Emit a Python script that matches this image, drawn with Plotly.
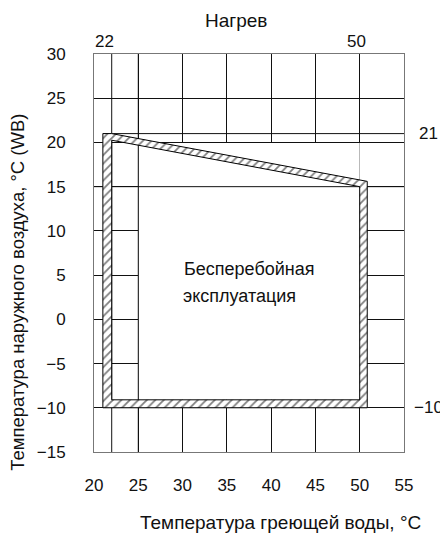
import plotly.graph_objects as go

# ---- data ----
x_ticks = [20, 25, 30, 35, 40, 45, 50, 55]
y_ticks = [-15, -10, -5, 0, 5, 10, 15, 20, 25, 30]

# operating envelope: hatched boundary band (outer and inner edges)
band_outer_x = [21, 21, 22, 50.85, 50.85]
band_outer_y = [-10, 21, 21, 15.6, -10]
band_inner_x = [22, 22, 50, 50]
band_inner_y = [-9.1, 20.25, 15, -9.1]

top_labels = [22, 50]        # water temperature limits shown above the plot
right_labels = [21, -10]     # outdoor temperature limits shown on the right

title_text = "Нагрев"
x_title = "Температура греющей воды, °C"
y_title = "Температура наружного воздуха, °C (WB)"
area_lines = ["Бесперебойная", "эксплуатация"]

FONT = "Liberation Sans, Arial, sans-serif"
GRID = "#111111"
TXT = "#111111"

fig = go.Figure()

def seg(xs, ys, color=GRID, width=1):
    fig.add_trace(go.Scatter(x=xs, y=ys, mode="lines",
                             line=dict(color=color, width=width),
                             hoverinfo="skip", showlegend=False))

# extra reference line at x = 22
seg([top_labels[0], top_labels[0]], [y_ticks[0], y_ticks[-1]])

# white mask hiding the grid inside the envelope
mx0, mx1 = x_ticks[1], band_inner_x[-1]
my0, my1 = band_inner_y[0], 19.95
fig.add_trace(go.Scatter(x=[mx0, mx0, mx1, mx1, mx0], y=[my0, my1, my1, my0, my0],
                         mode="lines", fill="toself", fillcolor="white",
                         line=dict(width=0, color="white"),
                         hoverinfo="skip", showlegend=False))

# lines that stay visible over the mask
seg([x_ticks[1], x_ticks[1]], [y_ticks[0], y_ticks[-1]])
seg([x_ticks[0], x_ticks[-1]], [15, 15])
seg([band_outer_x[0], x_ticks[-1]], [right_labels[0], right_labels[0]])

# hatched band: outer ring (clockwise) + inner ring (counter-clockwise) -> hole
inner_rev_x = [band_inner_x[0]] + band_inner_x[::-1][:-1]
inner_rev_y = [band_inner_y[0]] + band_inner_y[::-1][:-1]
ring_x = band_outer_x + [band_outer_x[0]] + inner_rev_x + [inner_rev_x[0]]
ring_y = band_outer_y + [band_outer_y[0]] + inner_rev_y + [inner_rev_y[0]]
fig.add_trace(go.Scatter(x=ring_x, y=ring_y, mode="lines", fill="toself",
                         fillcolor="white",
                         fillpattern=dict(shape="/", size=6, solidity=0.3,
                                          fgcolor="#000", bgcolor="white"),
                         line=dict(width=0, color="rgba(0,0,0,0)"),
                         hoverinfo="skip", showlegend=False))

# band outlines
seg(band_outer_x + [band_outer_x[0]], band_outer_y + [band_outer_y[0]], color="#000")
seg(band_inner_x + [band_inner_x[0]], band_inner_y + [band_inner_y[0]], color="#000")

annotations = []
for v, dx in zip(top_labels, [-7, -3]):
    annotations.append(dict(x=v, y=y_ticks[-1], xref="x", yref="y", text=str(v),
                            showarrow=False, yanchor="bottom", yshift=1, xshift=dx,
                            font=dict(size=17, family=FONT, color=TXT)))
for v in right_labels:
    annotations.append(dict(x=1, y=v, xref="paper", yref="y",
                            text=str(v).replace("-", "\u2212"),
                            showarrow=False, xanchor="center", xshift=24,
                            font=dict(size=17, family=FONT, color=TXT)))
annotations.append(dict(x=30, y=5.7, xref="x", yref="y", text=area_lines[0],
                        showarrow=False, xanchor="left", xshift=-1,
                        font=dict(size=18, family=FONT, color=TXT)))
annotations.append(dict(x=30, y=2.6, xref="x", yref="y", text=area_lines[1],
                        showarrow=False, xanchor="left", xshift=-2,
                        font=dict(size=18, family=FONT, color=TXT)))
annotations.append(dict(x=0.6, y=-0.176, xref="paper", yref="paper", text=x_title,
                        showarrow=False, xanchor="center", yanchor="middle",
                        font=dict(size=19, family=FONT, color=TXT)))
annotations.append(dict(x=-0.245, y=0.40, xref="paper", yref="paper", text=y_title,
                        showarrow=False, textangle=-90, xanchor="center", yanchor="middle",
                        font=dict(size=18.5, family=FONT, color=TXT)))
annotations.append(dict(x=0.458, y=1.0, xref="paper", yref="paper", text=title_text,
                        showarrow=False, xanchor="center", yanchor="middle", yshift=34,
                        font=dict(size=19, family=FONT, color=TXT)))

# page body keeps an 8px margin, so the figure is 8px smaller and margins shifted
fig.update_layout(
    width=440, height=525,
    margin=dict(l=86, r=44, t=46, b=81),
    paper_bgcolor="white", plot_bgcolor="white",
    font=dict(family=FONT, size=17, color=TXT),
    showlegend=False,
    annotations=annotations,
)
fig.update_xaxes(range=[x_ticks[0], x_ticks[-1]], tickvals=x_ticks,
                 showgrid=True, gridcolor=GRID, gridwidth=1, zeroline=False,
                 showline=True, mirror=True, linecolor="#777", linewidth=1,
                 ticks="", ticklabelstandoff=18, tickfont=dict(size=17))
fig.update_yaxes(range=[y_ticks[0], y_ticks[-1]], tickvals=y_ticks,
                 showgrid=True, gridcolor=GRID, gridwidth=1, zeroline=False,
                 showline=True, mirror=True, linecolor="#777", linewidth=1,
                 ticks="", ticklabelstandoff=24, tickfont=dict(size=17))

fig.write_html("out.html")
